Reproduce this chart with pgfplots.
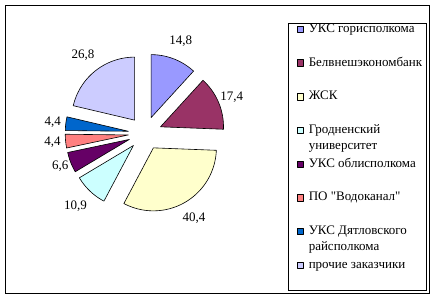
\documentclass[border=0pt]{standalone}
\usepackage{fontspec}
\setmainfont{Liberation Serif}[Ligatures=TeXOff]
\usepackage{pgfplots}
\usepackage{pgfplotstable}
\pgfplotsset{compat=1.18}
\pgfkeys{/pgf/number format/assume math mode=true}

\definecolor{pc0}{HTML}{9999FF}
\definecolor{pc1}{HTML}{993366}
\definecolor{pc2}{HTML}{FFFFCC}
\definecolor{pc3}{HTML}{CCFFFF}
\definecolor{pc4}{HTML}{660066}
\definecolor{pc5}{HTML}{FF8080}
\definecolor{pc6}{HTML}{0066CC}
\definecolor{pc7}{HTML}{CCCCFF}

\newcommand\lblfont{\fontsize{13}{15.6}\selectfont}
\newcommand\two[2]{\vtop{\hbox{#1}\hbox{#2}}}

% value = share shown on the chart, lr = distance of its label from the pie centre
\pgfplotstableread{
value lr
14.8 99
17.4 94
40.4 98
10.9 101
6.6 91
4.4 93
4.4 93
26.8 100
}\piedata

\newcommand\pcx{145}
\newcommand\pcy{165.7}
\newcommand\pr{63}
\newcommand\pd{16.8}

\gdef\pietotal{0}
\foreach \i in {0,...,7}{%
  \pgfplotstablegetelem{\i}{value}\of\piedata
  \pgfmathsetmacro\tmp{\pietotal+\pgfplotsretval}%
  \global\let\pietotal\tmp
}
\gdef\piecur{90}
\foreach \i in {0,...,7}{%
  \pgfplotstablegetelem{\i}{value}\of\piedata
  \let\pv\pgfplotsretval
  \pgfplotstablegetelem{\i}{lr}\of\piedata
  \let\plr\pgfplotsretval
  \pgfmathsetmacro\sw{\pv/\pietotal*360}%
  \pgfmathsetmacro\ea{\piecur-\sw}%
  \pgfmathsetmacro\ma{\piecur-\sw/2}%
  \pgfmathsetmacro\ox{\pcx+\pd*cos(\ma)}%
  \pgfmathsetmacro\oy{\pcy+\pd*sin(\ma)}%
  \pgfmathsetmacro\lx{\pcx+\plr*cos(\ma)}%
  \pgfmathsetmacro\ly{\pcy+\plr*sin(\ma)}%
  \expandafter\xdef\csname pieS\i\endcsname{\piecur}%
  \expandafter\xdef\csname pieE\i\endcsname{\ea}%
  \expandafter\xdef\csname pieX\i\endcsname{\ox}%
  \expandafter\xdef\csname pieY\i\endcsname{\oy}%
  \expandafter\xdef\csname pieLX\i\endcsname{\lx}%
  \expandafter\xdef\csname pieLY\i\endcsname{\ly}%
  \expandafter\xdef\csname pieV\i\endcsname{\pv}%
  \global\let\piecur\ea
}

\begin{document}
\begin{tikzpicture}
\useasboundingbox (0pt,0pt) rectangle (436pt,299pt);
\begin{axis}[
  at={(0pt,0pt)}, anchor=south west,
  scale only axis, width=436pt, height=299pt,
  xmin=0, xmax=436, ymin=0, ymax=299,
  hide axis, clip=false,
  legend cell align=left,
  legend style={draw=none, fill=none, inner sep=0pt,
    at={(axis cs:296.5,275.7)}, anchor=north west,
    row sep=0pt,
    nodes={inner sep=0pt, text height=9pt, text depth=24.7pt, font=\lblfont},
    cells={anchor=base west}},
  legend image code/.code={%
    \draw[#1, line width=0.5pt, draw=black] (0pt,0pt) rectangle (6.5pt,6.5pt);
    \path[draw=none, fill=none] (0pt,0pt) -- (11.8pt,0pt);},
]
\pgfplotsinvokeforeach{0,...,7}{%
  \edef\doslice{\noexpand\addplot[fill=pc#1, draw=black, line width=0.6pt, line join=round,
      domain=\csname pieE#1\endcsname:\csname pieS#1\endcsname, samples=60, variable=\noexpand\t]
    ({\csname pieX#1\endcsname+\pr*cos(\noexpand\t)},{\csname pieY#1\endcsname+\pr*sin(\noexpand\t)})
    -- (axis cs:\csname pieX#1\endcsname,\csname pieY#1\endcsname) -- cycle;}%
  \doslice
}
\pgfplotsinvokeforeach{0,...,7}{%
  \edef\dolabel{\noexpand\node[font=\noexpand\lblfont, inner sep=0pt]
    at (axis cs:\csname pieLX#1\endcsname,\csname pieLY#1\endcsname)
    {\noexpand\pgfmathprintnumber[fixed,precision=1,use comma]{\csname pieV#1\endcsname}};}%
  \dolabel
}
\legend{УКС горисполкома, Белвнешэкономбанк, ЖСК, \two{Гродненский}{университет},
  УКС облисполкома, ПО "Водоканал", \two{УКС Дятловского}{райсполкома}, прочие заказчики}
\end{axis}
\draw[line width=0.8pt] (5pt,6pt) rectangle (429pt,294pt);
\draw[line width=0.8pt] (288.3pt,8.3pt) rectangle (426.5pt,275.7pt);
\end{tikzpicture}
\end{document}
